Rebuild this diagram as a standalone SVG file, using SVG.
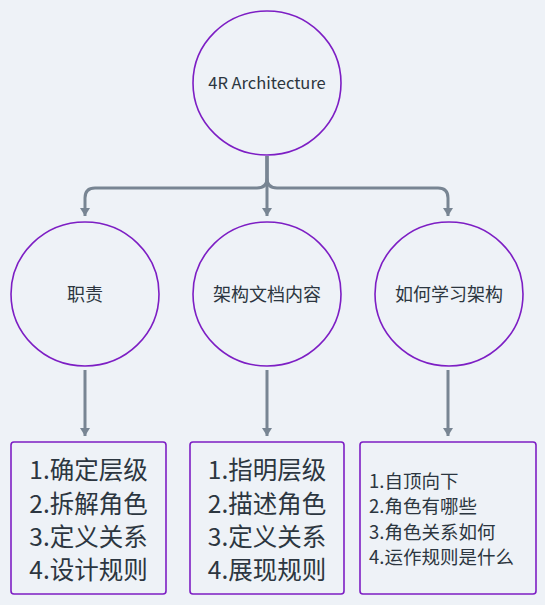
<svg xmlns="http://www.w3.org/2000/svg" width="545" height="605" viewBox="0 0 545 605">
<style>
.bg{fill:#eef2f7}
.node{fill:#eef2f7;stroke:#7d1ec4;stroke-width:1.6}
.con{fill:none;stroke:#788593;stroke-width:3}
text{font-family:"Noto Sans CJK SC","Noto Sans",sans-serif;fill:#2c3640}
.lbl{font-size:18px;text-anchor:middle}
.en{font-size:16.5px}
.big{font-size:24.5px;text-anchor:middle}
.sm{font-size:18.5px}
</style>
<defs>
<marker id="arr" markerUnits="userSpaceOnUse" markerWidth="11" markerHeight="11" refX="8" refY="5" orient="auto">
<path d="M0,0 L8,5 L0,10 z" fill="#788593"/>
</marker>
</defs>
<rect class="bg" x="0" y="0" width="545" height="605"/>
<g id="connectors">
<path class="con" d="M267,156 L267,178 Q267,188 257,188 L95,188 Q85,188 85,198 L85,216" marker-end="url(#arr)"/>
<path class="con" d="M267,156 L267,216" marker-end="url(#arr)"/>
<path class="con" d="M267,156 L267,178 Q267,188 277,188 L438,188 Q448,188 448,198 L448,216" marker-end="url(#arr)"/>
<path class="con" d="M85,370 L85,436" marker-end="url(#arr)"/>
<path class="con" d="M267,370 L267,436" marker-end="url(#arr)"/>
<path class="con" d="M448,370 L448,436" marker-end="url(#arr)"/>
</g>
<g id="root">
<ellipse class="node" cx="267" cy="83" rx="74" ry="72"/>
<text class="lbl en" x="267" y="89">4R Architecture</text>
</g>
<g id="duty">
<ellipse class="node" cx="85" cy="294" rx="74" ry="72"/>
<text class="lbl" x="85" y="301">职责</text>
</g>
<g id="docs">
<ellipse class="node" cx="267" cy="294" rx="74" ry="72"/>
<text class="lbl" x="267" y="301">架构文档内容</text>
</g>
<g id="learn">
<ellipse class="node" cx="449" cy="294" rx="74" ry="72"/>
<text class="lbl" x="449" y="301">如何学习架构</text>
</g>
<g id="duty-list">
<rect class="node" x="11" y="442" width="155" height="152" rx="3"/>
<text class="big" x="88.5" y="479">1.确定层级</text>
<text class="big" x="88.5" y="513">2.拆解角色</text>
<text class="big" x="88.5" y="546">3.定义关系</text>
<text class="big" x="88.5" y="579">4.设计规则</text>
</g>
<g id="docs-list">
<rect class="node" x="190" y="442" width="154" height="152" rx="3"/>
<text class="big" x="267" y="479">1.指明层级</text>
<text class="big" x="267" y="513">2.描述角色</text>
<text class="big" x="267" y="546">3.定义关系</text>
<text class="big" x="267" y="579">4.展现规则</text>
</g>
<g id="learn-list">
<rect class="node" x="360" y="442" width="176" height="152" rx="3"/>
<text class="sm" x="369" y="488">1.自顶向下</text>
<text class="sm" x="369" y="513">2.角色有哪些</text>
<text class="sm" x="369" y="538.5">3.角色关系如何</text>
<text class="sm" x="369" y="563.5">4.运作规则是什么</text>
</g>
</svg>
